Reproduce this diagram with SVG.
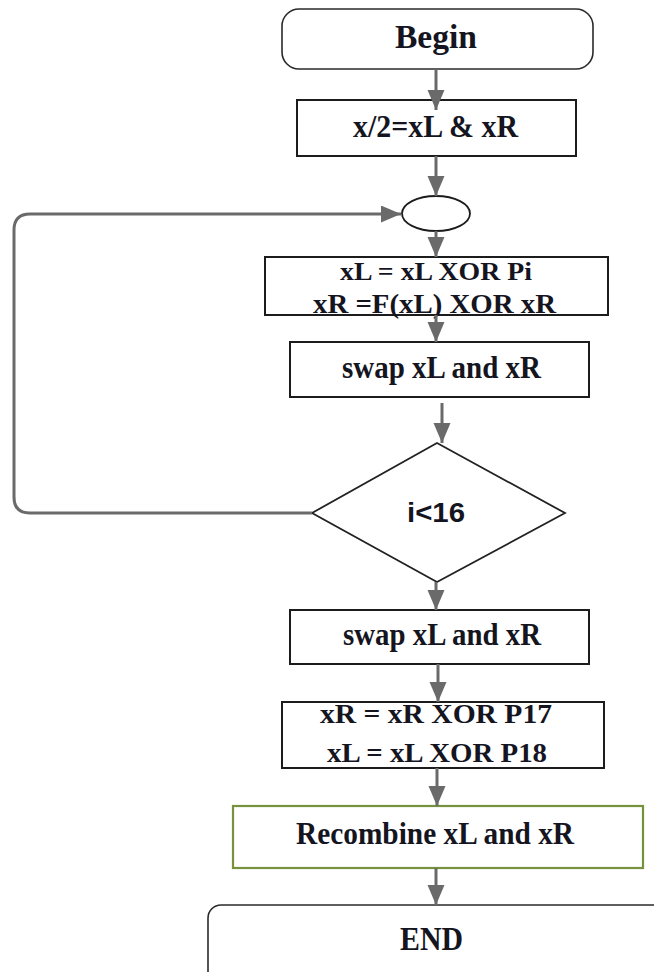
<svg xmlns="http://www.w3.org/2000/svg" width="654" height="972" viewBox="0 0 654 972">
  <style>
    .box { fill: #ffffff; stroke: #1c1c1c; stroke-width: 2; }
    .term { fill: #ffffff; stroke: #2a2a2a; stroke-width: 1.6; }
    .green { fill: #ffffff; stroke: #76923c; stroke-width: 2.2; }
    .lbl { font-family: "Liberation Serif", "Times New Roman", serif; font-weight: bold; fill: #15151f; text-anchor: middle; }
    .cond { font-family: "Liberation Sans", Arial, sans-serif; font-weight: bold; fill: #15151f; text-anchor: middle; }
    .flow { fill: none; stroke: #6a6a6a; stroke-width: 3; }
  </style>
  <defs>
    <marker id="arrow" markerUnits="userSpaceOnUse" markerWidth="20" markerHeight="18" refX="20" refY="8.5" orient="auto">
      <path d="M0,0 L20,8.5 L0,17 z" fill="#6a6a6a"/>
    </marker>
  </defs>
  <rect width="654" height="972" fill="#ffffff"/>

  <!-- start terminal -->
  <g id="begin">
    <rect class="term" x="282" y="9" width="311" height="60" rx="17"/>
    <text class="lbl" x="436" y="48" font-size="33" textLength="82" lengthAdjust="spacingAndGlyphs">Begin</text>
  </g>

  <!-- split the block -->
  <g id="split">
    <rect class="box" x="297" y="100" width="279" height="56"/>
    <text class="lbl" x="435.5" y="137" font-size="32" textLength="165" lengthAdjust="spacingAndGlyphs">x/2=xL &amp; xR</text>
  </g>

  <!-- loop junction -->
  <g id="junction">
    <ellipse cx="436" cy="213.5" rx="34" ry="17.5" fill="#ffffff" stroke="#1c1c1c" stroke-width="1.8"/>
  </g>

  <!-- round function -->
  <g id="round">
    <rect class="box" x="265" y="257" width="343" height="58"/>
    <text class="lbl" x="436" y="280" font-size="26" textLength="192" lengthAdjust="spacingAndGlyphs">xL = xL XOR Pi</text>
    <text class="lbl" x="434.5" y="313" font-size="27" textLength="243" lengthAdjust="spacingAndGlyphs">xR =F(xL) XOR xR</text>
  </g>

  <!-- swap inside the loop -->
  <g id="swap1">
    <rect class="box" x="290" y="342" width="299" height="55"/>
    <text class="lbl" x="441.5" y="378" font-size="31" textLength="199" lengthAdjust="spacingAndGlyphs">swap xL and xR</text>
  </g>

  <!-- loop test -->
  <g id="test">
    <polygon points="437,443 565,513 437,582 312,513" fill="#ffffff" stroke="#222222" stroke-width="1.8"/>
    <text class="cond" x="436" y="522" font-size="28" textLength="58" lengthAdjust="spacingAndGlyphs">i&lt;16</text>
  </g>

  <!-- undo last swap -->
  <g id="swap2">
    <rect class="box" x="290" y="610" width="299" height="54"/>
    <text class="lbl" x="442" y="645" font-size="31" textLength="198" lengthAdjust="spacingAndGlyphs">swap xL and xR</text>
  </g>

  <!-- output whitening -->
  <g id="whiten">
    <rect class="box" x="282" y="702" width="322" height="66"/>
    <text class="lbl" x="436" y="723" font-size="28" textLength="232" lengthAdjust="spacingAndGlyphs">xR = xR XOR P17</text>
    <text class="lbl" x="437" y="762" font-size="28" textLength="220" lengthAdjust="spacingAndGlyphs">xL = xL XOR P18</text>
  </g>

  <!-- recombine halves -->
  <g id="recombine">
    <rect class="green" x="233" y="806" width="410" height="62"/>
    <text class="lbl" x="435" y="844" font-size="31" textLength="278" lengthAdjust="spacingAndGlyphs">Recombine xL and xR</text>
  </g>

  <!-- end terminal -->
  <g id="end">
    <rect class="term" x="208" y="905" width="480" height="100" rx="13"/>
    <text class="lbl" x="431.5" y="950" font-size="33" textLength="63" lengthAdjust="spacingAndGlyphs">END</text>
  </g>

  <!-- connectors -->
  <g id="connectors">
    <line class="flow" x1="436" y1="69" x2="436" y2="110" marker-end="url(#arrow)"/>
    <line class="flow" x1="436" y1="156" x2="436" y2="196" marker-end="url(#arrow)"/>
    <line class="flow" x1="436" y1="231" x2="436" y2="257" marker-end="url(#arrow)"/>
    <line class="flow" x1="436" y1="315" x2="436" y2="342" marker-end="url(#arrow)"/>
    <line class="flow" x1="442" y1="403" x2="442" y2="443" marker-end="url(#arrow)"/>
    <line class="flow" x1="436" y1="582" x2="436" y2="610" marker-end="url(#arrow)"/>
    <line class="flow" x1="438" y1="664" x2="438" y2="702" marker-end="url(#arrow)"/>
    <line class="flow" x1="437" y1="768" x2="437" y2="806" marker-end="url(#arrow)"/>
    <line class="flow" x1="436" y1="868" x2="436" y2="905" marker-end="url(#arrow)"/>
    <path class="flow" d="M312,513 H30 Q14,513 14,497 V230 Q14,214 30,214 H401" marker-end="url(#arrow)"/>
  </g>
</svg>
